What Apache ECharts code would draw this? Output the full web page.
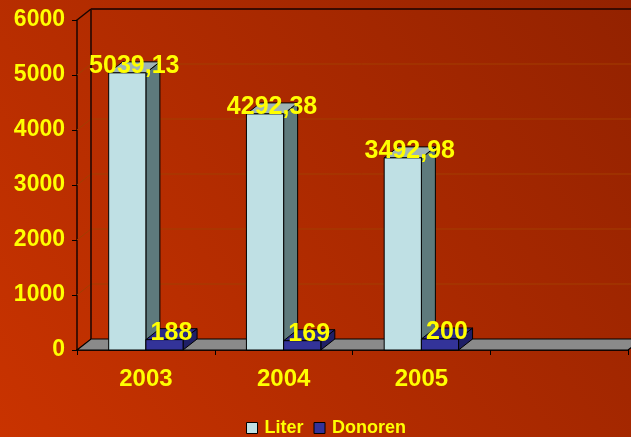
<!DOCTYPE html>
<html>
<head>
<meta charset="utf-8">
<script src="https://cdn.jsdelivr.net/npm/echarts@6/dist/echarts.min.js"></script>
<style>html,body{margin:0;padding:0;}#c{width:631px;height:437px;}</style>
</head>
<body>
<div id="c"></div>
<script>
var categories = ['2003', '2004', '2005', ''];
var literValues = [5039.13, 4292.38, 3492.98];
var donorenValues = [188, 169, 200];
var yTicks = [0, 1000, 2000, 3000, 4000, 5000, 6000];

var DX = 14, DY = -11;
var FONT = 'Liberation Sans, Arial, sans-serif';
var YELLOW = '#ffff00';

function fmtLiter(v) { return v.toFixed(2).replace('.', ','); }
function fmtInt(v) { return String(v); }

function makeBarRender(side, front, sideCol, topCol, fmt) {
  return function (params, api) {
    var idx = api.value(0), val = api.value(1);
    var top = api.coord([idx, val]);
    var base = api.coord([idx, 0]);
    var bw = api.size([1, 0])[0] * 0.27;
    var x0 = side < 0 ? top[0] - bw : top[0];
    var x1 = x0 + bw;
    var yT = top[1], yB = base[1];
    return {
      type: 'group',
      children: [
        { type: 'polygon', shape: { points: [[x1, yB], [x1 + DX, yB + DY], [x1 + DX, yT + DY], [x1, yT]] },
          style: { fill: sideCol, stroke: '#000', lineWidth: 1 } },
        { type: 'polygon', shape: { points: [[x0, yT], [x0 + DX, yT + DY], [x1 + DX, yT + DY], [x1, yT]] },
          style: { fill: topCol, stroke: '#000', lineWidth: 1 } },
        { type: 'rect', shape: { x: x0, y: yT, width: bw, height: yB - yT },
          style: { fill: front, stroke: '#000', lineWidth: 1 } },
        { type: 'text', z2: 100, x: x0 + bw / 2 + 7, y: yT - 7,
          style: { text: fmt(val), fill: YELLOW, font: 'bold 25px ' + FONT, align: 'center', verticalAlign: 'middle' } }
      ]
    };
  };
}

function renderWall(params, api) {
  var cs = params.coordSys;
  var left = cs.x, right = cs.x + cs.width;
  var y0 = api.coord([0, 0])[1];
  var yMax = api.coord([0, yTicks[yTicks.length - 1]])[1];
  var ch = [];
  ch.push({ type: 'polygon', shape: { points: [[left, y0], [right, y0], [right + DX, y0 + DY], [left + DX, y0 + DY]] },
    style: { fill: '#8a8a8a', stroke: '#000', lineWidth: 1.2 } });
  yTicks.forEach(function (v) {
    if (v <= 0 || v >= yTicks[yTicks.length - 1]) return;
    var y = api.coord([0, v])[1];
    ch.push({ type: 'polyline', shape: { points: [[left, y], [left + DX, y + DY], [right + DX + 20, y + DY]] },
      style: { stroke: '#a23e00', lineWidth: 1, fill: null } });
  });
  ch.push({ type: 'line', shape: { x1: left + DX, y1: y0 + DY, x2: left + DX, y2: yMax + DY }, style: { stroke: '#1a0500', lineWidth: 1.5 } });
  ch.push({ type: 'line', shape: { x1: left + DX, y1: yMax + DY, x2: right + DX + 20, y2: yMax + DY }, style: { stroke: '#3a0a00', lineWidth: 2 } });
  ch.push({ type: 'line', shape: { x1: left, y1: yMax, x2: left + DX, y2: yMax + DY }, style: { stroke: '#1a0500', lineWidth: 1.5 } });
  return { type: 'group', children: ch };
}

var chart = echarts.init(document.getElementById('c'), null, { renderer: 'canvas' });
chart.setOption({
  animation: false,
  backgroundColor: {
    type: 'linear', x: 0, y: 1, x2: 1, y2: 0,
    colorStops: [{ offset: 0, color: '#c93300' }, { offset: 1, color: '#932200' }]
  },
  grid: { left: 77, right: 3, top: 20, bottom: 87, containLabel: false },
  legend: {
    data: ['Liter', 'Donoren'], left: 241, top: 414, icon: 'rect', itemWidth: 11, itemHeight: 11, itemGap: 10,
    itemStyle: { borderColor: '#000', borderWidth: 1 },
    textStyle: { color: YELLOW, fontWeight: 'bold', fontSize: 18, fontFamily: FONT, padding: [0, 0, 0, 2] }
  },
  xAxis: {
    type: 'category', data: categories,
    axisLine: { show: true, lineStyle: { color: '#000', width: 1.5 } },
    axisTick: { show: true, length: 5, interval: 0, lineStyle: { color: '#000', width: 1 } },
    axisLabel: { color: YELLOW, fontWeight: 'bold', fontSize: 24, fontFamily: FONT, margin: 17 },
    splitLine: { show: false }
  },
  yAxis: {
    type: 'value', min: 0, max: 6000, interval: 1000,
    axisLine: { show: true, lineStyle: { color: '#1a0500', width: 1.5 } },
    axisTick: { show: true, length: 5, lineStyle: { color: '#000', width: 1 } },
    axisLabel: { color: YELLOW, fontWeight: 'bold', fontSize: 23, fontFamily: FONT, margin: 12,
      padding: [4, 0, 0, 0],
      formatter: function (v) { return String(v); } },
    splitLine: { show: false }
  },
  series: [
    { type: 'custom', name: 'wall', silent: true, z: 1, renderItem: renderWall, data: [[0, 0]], clip: false },
    { type: 'custom', name: 'Liter', z: 2, itemStyle: { color: '#bfe0e4' }, clip: false,
      renderItem: makeBarRender(-1, '#bfe0e4', '#5e7a7c', '#9fb4b5', fmtLiter),
      data: literValues.map(function (v, i) { return [i, v]; }) },
    { type: 'custom', name: 'Donoren', z: 3, itemStyle: { color: '#333399' }, clip: false,
      renderItem: makeBarRender(1, '#333399', '#1f1f66', '#2a2a88', fmtInt),
      data: donorenValues.map(function (v, i) { return [i, v]; }) }
  ]
});
</script>
</body>
</html>
